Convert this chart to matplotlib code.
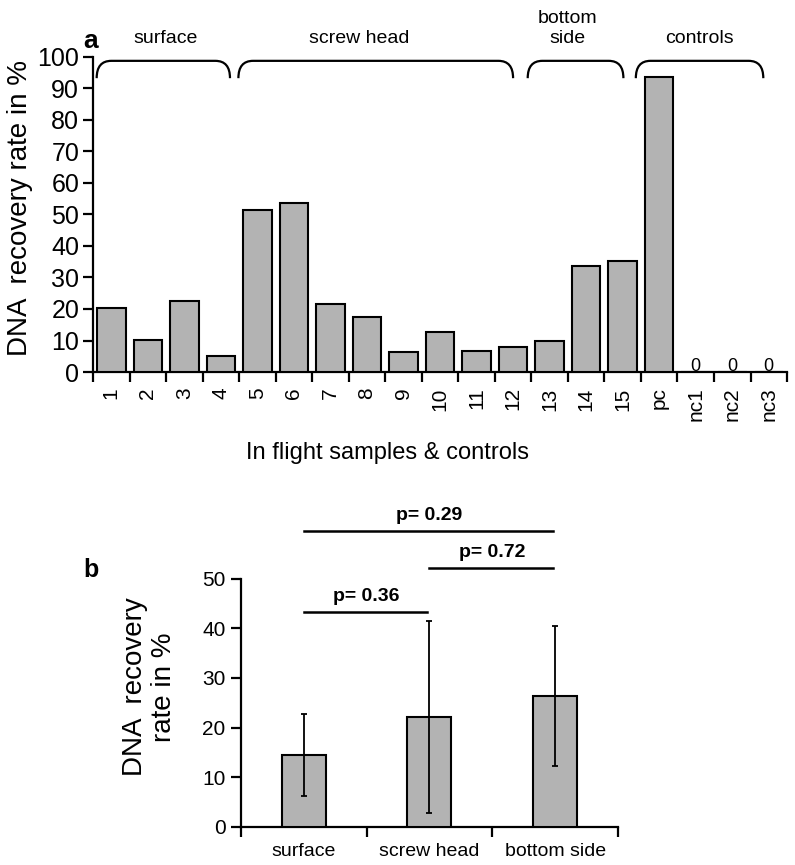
import numpy as np
import matplotlib
matplotlib.use('Agg')
import matplotlib.pyplot as plt
from matplotlib.path import Path
import matplotlib.patches as patches

plt.rcParams['font.family'] = ['Liberation Sans', 'DejaVu Sans']

# -- panel a: recovery per sample -- #
samples = ['1', '2', '3', '4', '5', '6', '7', '8', '9', '10', '11', '12', '13', '14', '15',
           'pc', 'nc1', 'nc2', 'nc3']
recovery = [20.3, 10.2, 22.6, 5.1, 51.4, 53.7, 21.6, 17.5, 6.3, 12.6, 6.7, 8.0, 10.0,
            33.6, 35.2, 93.7, 0, 0, 0]
groups = ['surface', 'screw head', 'bottom\nside', 'controls']

# -- panel b: mean per location -- #
locations = ['surface', 'screw head', 'bottom side']
mean_rate = [14.5, 22.1, 26.3]
sd_rate = [8.3, 19.4, 14.1]
pairs = [(0, 1), (1, 2), (0, 2)]
p_values = ['p= 0.36', 'p= 0.72', 'p= 0.29']

# layout bits (not data)
brace_spans = [(-0.4, 3.25), (3.48, 11.0), (11.4, 14.02), (14.36, 17.85)]
group_x = [1.48, 6.78, 12.5, 16.09]
pair_y = [43.3, 52.2, 59.7]

grey = '#b3b3b3'

fig = plt.figure(figsize=(7.95, 8.65), dpi=100)
ax = fig.add_axes([0.1170, 0.5699, 0.8730, 0.3645])
ax2 = fig.add_axes([0.3031, 0.04428, 0.4742, 0.2866])


def brace(ax, x0, x1, ybot=93.2, ytop=98.7, dx=0.4):
    verts = [(x0, ybot), (x0, ytop), (x0 + dx, ytop), (x1 - dx, ytop), (x1, ytop), (x1, ybot)]
    codes = [Path.MOVETO, Path.CURVE3, Path.CURVE3, Path.LINETO, Path.CURVE3, Path.CURVE3]
    ax.add_patch(patches.PathPatch(Path(verts, codes), fill=False, lw=1.6, clip_on=False))


def style(a):
    for s in ['top', 'right']:
        a.spines[s].set_visible(False)
    for s in ['left', 'bottom']:
        a.spines[s].set_linewidth(1.6)


# ---- panel a ---- #
x = np.arange(len(samples))
ax.bar(x, recovery, width=0.78, color=grey, edgecolor='k', linewidth=1.5, zorder=3)
for i, v in enumerate(recovery):
    if v == 0:
        ax.text(i, 0.2, '0', ha='center', va='baseline', fontsize=13)

for (x0, x1) in brace_spans:
    brace(ax, x0, x1)
for gx, g in zip(group_x, groups):
    ax.text(gx, 103.0, g, ha='center', va='bottom', fontsize=14, linespacing=1.25)

ax.set_xlim(-0.5, len(samples) - 0.5)
ax.set_ylim(0, 100)
ax.set_yticks(np.arange(0, 101, 10))
ax.set_xticks(x)
ax.set_xticklabels(samples, rotation=90, fontsize=15)
ax.set_xticks(np.arange(-0.5, len(samples), 1), minor=True)
ax.tick_params(axis='x', which='major', length=0, pad=11)
ax.tick_params(axis='x', which='minor', length=7, width=1.6, direction='out')
ax.tick_params(axis='y', length=7, width=1.6, labelsize=18, pad=3)
style(ax)

ax.set_ylabel('DNA  recovery rate in %', fontsize=20)
ax.yaxis.set_label_coords(-0.0865, 0.52)
ax.set_xlabel('In flight samples & controls', fontsize=17)
ax.xaxis.set_label_coords(0.424, -0.222)

# ---- panel b ---- #
xb = np.arange(len(locations))
ax2.bar(xb, mean_rate, width=0.35, color=grey, edgecolor='k', linewidth=1.5, zorder=3)
ax2.errorbar(xb, mean_rate, yerr=sd_rate, fmt='none', ecolor='k', elinewidth=1.3,
             capsize=2.5, capthick=1.3, zorder=4)

for (i, j), yy, p in zip(pairs, pair_y, p_values):
    ax2.plot([i, j - 0.02], [yy, yy], color='k', lw=1.8, clip_on=False)
    ax2.text((i + j) / 2, yy + 2.2, p, ha='center', va='baseline', fontsize=14,
             fontweight='bold')

ax2.set_xlim(-0.5, len(locations) - 0.5)
ax2.set_ylim(0, 50)
ax2.set_yticks(np.arange(0, 51, 10))
ax2.set_xticks(xb)
ax2.set_xticklabels(locations, fontsize=14)
ax2.set_xticks(np.arange(-0.5, len(locations), 1), minor=True)
ax2.tick_params(axis='x', which='major', length=0, pad=12)
ax2.tick_params(axis='x', which='minor', length=7, width=1.6, direction='out')
ax2.tick_params(axis='y', length=7, width=1.6, labelsize=15, pad=4)
style(ax2)

ax2.set_ylabel('DNA  recovery\nrate in %', fontsize=20, linespacing=1.15)
ax2.yaxis.set_label_coords(-0.170, 0.564)

fig.text(83 / 795, 1 - 48 / 865, 'a', fontsize=19, fontweight='bold', ha='left', va='baseline')
fig.text(83 / 795, 1 - 577 / 865, 'b', fontsize=18, fontweight='bold', ha='left', va='baseline')

plt.savefig('out.png', dpi=100)
plt.close('all')
